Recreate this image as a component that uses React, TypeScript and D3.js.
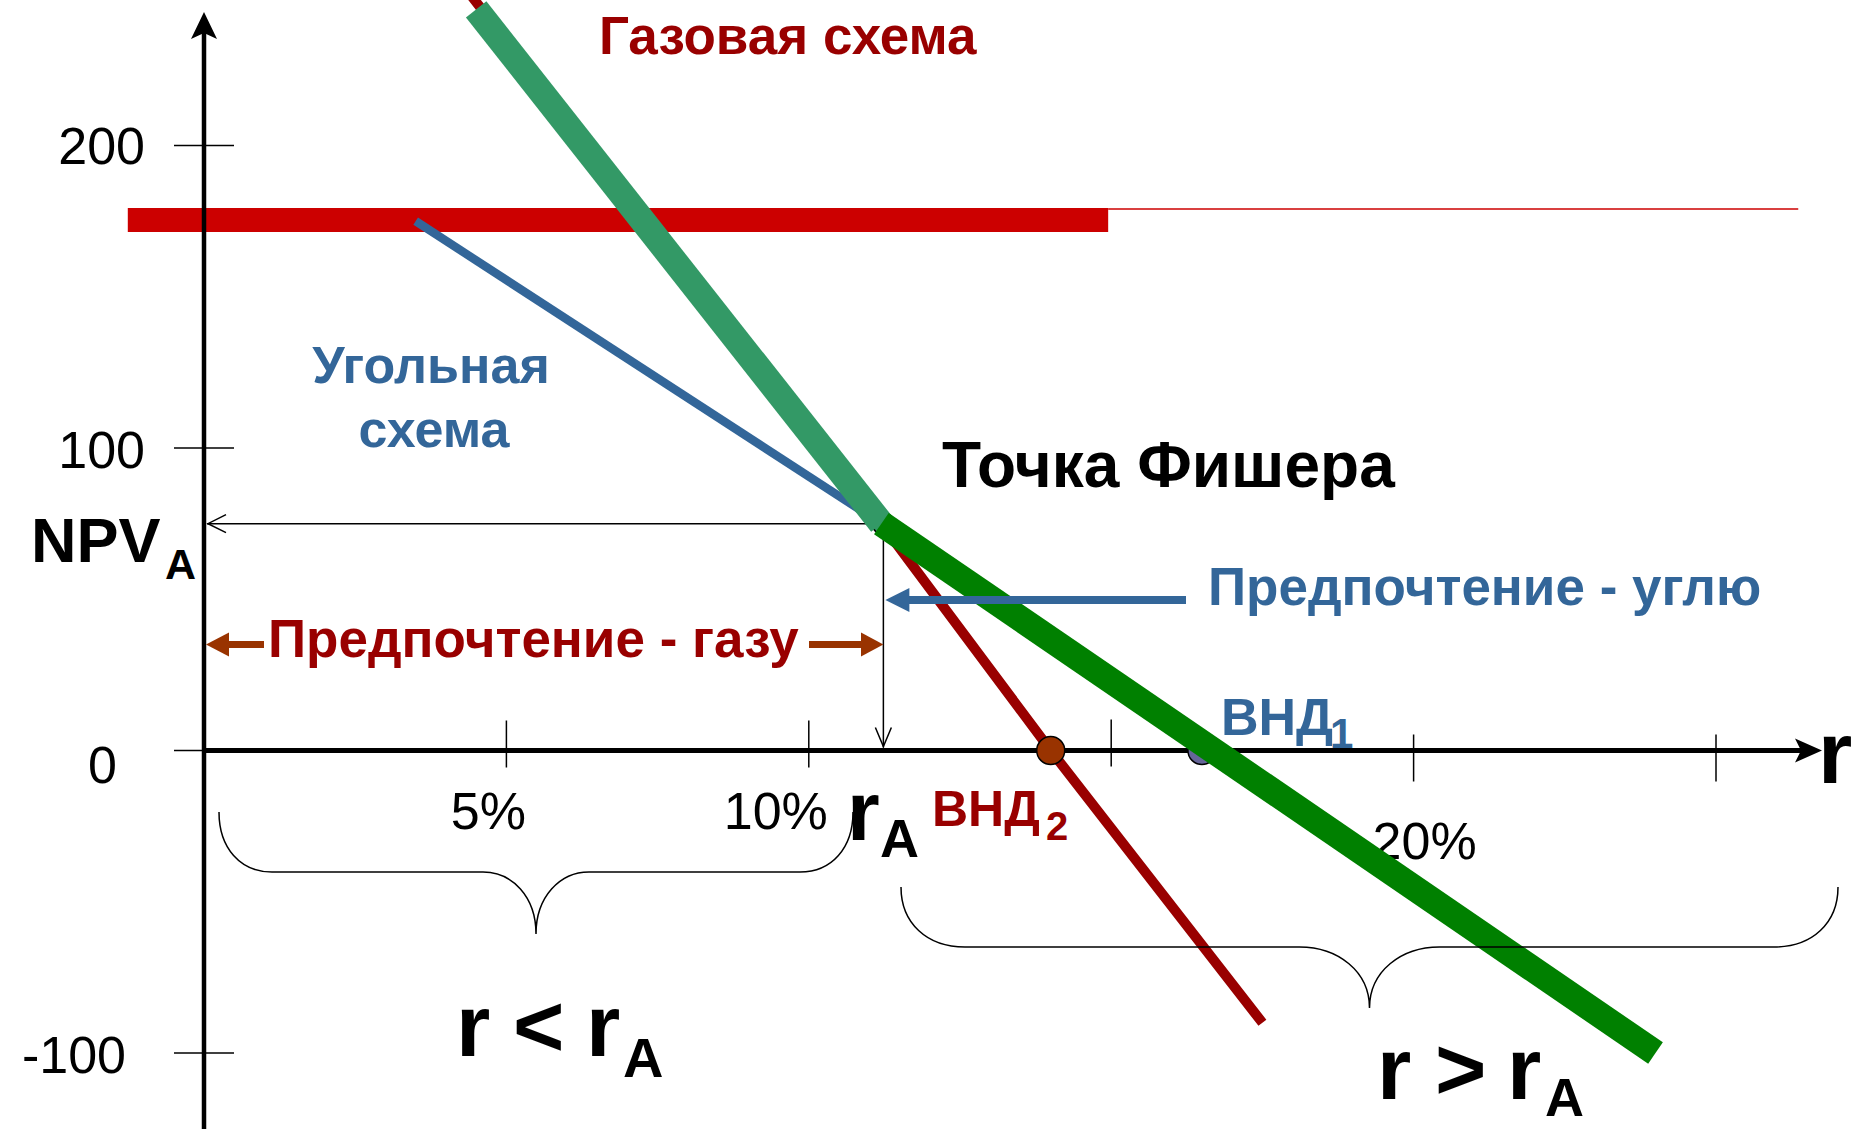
import React from 'react';
import { line, scaleLinear } from 'd3';

// tick values / labels
const rTicks = [5, 10, 15, 20, 25];
const rTickLabels = ['5%', '10%', '', '20%', ''];
const npvTicks = [200, 100, 0, -100];
const npvTickLabels = ['200', '100', '0', '-100'];

// NPV profiles (r in %, NPV)
const gasRates = [4.4, 11.2, 14.0, 17.5];
const gasNpv = [250, 75, 0, -90];
const coalRates = [3.5, 11.2];
const coalNpv = [175, 75];
// upper envelope: gas part and coal part
const envGasRates = [4.5, 11.2];
const envGasNpv = [245, 75];
const envCoalRates = [11.2, 24.0];
const envCoalNpv = [75, -100];
// red horizontal band
const bandRates = [-1.26, 14.95];
const bandNpv = [175.4, 175.4];
const bandTailRates = [14.95, 26.36];
const bandTailNpv = [179, 179];

const rA = 11.2;
const npvA = 75;
const irrGas = 14.0;
const irrCoal = 16.5;

const W = 1853;
const H = 1129;
const FONT = "'Liberation Sans', Arial, Helvetica, sans-serif";

const x = scaleLinear().domain([0, 25]).range([204, 1716]);
const y = scaleLinear().domain([-100, 200]).range([1053, 145.5]);

const zip = (rs: number[], vs: number[]) => rs.map((r, i) => [r, vs[i]] as [number, number]);
const path = line<[number, number]>()
  .x(d => x(d[0]))
  .y(d => y(d[1]));

// curly brace opening upward, pointing down at the middle
const brace = (x1: number, x2: number, yTop: number, yMid: number, yTip: number, e: number, c: number) => {
  const xc = (x1 + x2) / 2;
  const h = yMid - yTop;
  const t = yTip - yMid;
  return `M${x1},${yTop} C${x1},${yTop + h * 0.6} ${x1 + e * 0.4},${yMid} ${x1 + e},${yMid}` +
    ` H${xc - c} C${xc - c * 0.45},${yMid} ${xc},${yMid + t * 0.4} ${xc},${yTip}` +
    ` C${xc},${yMid + t * 0.4} ${xc + c * 0.45},${yMid} ${xc + c},${yMid}` +
    ` H${x2 - e} C${x2 - e * 0.4},${yMid} ${x2},${yTop + h * 0.6} ${x2},${yTop}`;
};

// y tick label nudges [dx, baseline offset]
const yLabelShift = [[0, 18], [0, 20], [-28, 32], [-19, 20]];
const xLabelShift = [[-18, 78], [-33, 78], [0, 78], [11, 108], [0, 78]];
const xTickSpan = [[-30, 17], [-30, 17], [-31, 16], [-16, 31], [-16, 31]];

export default function App() {
  const x0 = x(0);
  const y0 = y(0);
  const fx = x(rA);
  const fy = y(npvA);
  const axisRight = 1822;
  const axisTop = 12;

  return (
    <svg width={W} height={H} style={{ position: 'absolute', left: 0, top: 0, background: '#fff' }} fontFamily={FONT}>
      {/* red horizontal band */}
      <path d={path(zip(bandRates, bandNpv)) || ''} stroke="#CC0000" strokeWidth={24} fill="none" />
      <path d={path(zip(bandTailRates, bandTailNpv)) || ''} stroke="#CC0000" strokeWidth={1.5} fill="none" />

      {/* axes */}
      <line x1={x0} y1={H} x2={x0} y2={axisTop + 20} stroke="#000" strokeWidth={4.5} />
      <path d={`M${x0},${axisTop} L${x0 - 13},${axisTop + 27} L${x0},${axisTop + 21} L${x0 + 13},${axisTop + 27} Z`} fill="#000" />
      <line x1={x0} y1={y0} x2={axisRight - 20} y2={y0} stroke="#000" strokeWidth={5} />
      <path d={`M${axisRight},${y0} L${axisRight - 27},${y0 - 12} L${axisRight - 21},${y0} L${axisRight - 27},${y0 + 12} Z`} fill="#000" />

      {npvTicks.map((v, i) => (
        <g key={'y' + v}>
          <line x1={x0 - 30} x2={x0 + 30} y1={y(v)} y2={y(v)} stroke="#000" strokeWidth={1.5} />
          <text x={x0 - 59 + yLabelShift[i][0]} y={y(v) + yLabelShift[i][1]} textAnchor="end" fontSize={52}>
            {npvTickLabels[i]}
          </text>
        </g>
      ))}
      {rTicks.map((v, i) => (
        <g key={'x' + v}>
          <line x1={x(v)} x2={x(v)} y1={y0 + xTickSpan[i][0]} y2={y0 + xTickSpan[i][1]} stroke="#000" strokeWidth={1.5} />
          <text x={x(v) + xLabelShift[i][0]} y={y0 + xLabelShift[i][1]} textAnchor="middle" fontSize={52}>
            {rTickLabels[i]}
          </text>
        </g>
      ))}

      {/* guides from the Fisher point */}
      <line x1={fx + 2} y1={fy} x2={x0 + 3} y2={fy} stroke="#000" strokeWidth={1.5} />
      <path d={`M${x0 + 22},${fy - 9} L${x0 + 4},${fy} L${x0 + 22},${fy + 9}`} stroke="#000" strokeWidth={1.5} fill="none" />
      <line x1={fx + 2} y1={fy} x2={fx + 2} y2={y0 - 3} stroke="#000" strokeWidth={1.5} />
      <path d={`M${fx - 6},${y0 - 23} L${fx + 2},${y0 - 4} L${fx + 10},${y0 - 23}`} stroke="#000" strokeWidth={1.5} fill="none" />

      {/* NPV profiles */}
      <path d={path(zip(coalRates, coalNpv)) || ''} stroke="#336699" strokeWidth={8.5} fill="none" />
      <path d={path(zip(gasRates, gasNpv)) || ''} stroke="#990000" strokeWidth={10} fill="none" />
      <circle cx={fx + 2} cy={fy} r={11} fill="#339966" stroke="#000" strokeWidth={1.5} />

      <circle cx={x(irrCoal)} cy={y0} r={14} fill="#666699" stroke="#000" strokeWidth={1.5} />
      <circle cx={x(irrGas)} cy={y0} r={14} fill="#993300" stroke="#000" strokeWidth={1.5} />

      <path d={path(zip(envGasRates, envGasNpv)) || ''} stroke="#339966" strokeWidth={26} fill="none" />
      <path d={path(zip(envCoalRates, envCoalNpv)) || ''} stroke="#008000" strokeWidth={26} fill="none" />

      {/* preference arrows */}
      <rect x={fx + 26} y={596} width={1186 - fx - 26} height={8} fill="#336699" />
      <path d={`M${fx + 4},600 L${fx + 28},588 L${fx + 28},612 Z`} fill="#336699" />

      <rect x={228} y={641} width={36} height={7} fill="#993300" />
      <path d={`M${x0 + 2},644.5 L229,632.5 L229,656.5 Z`} fill="#993300" />
      <rect x={809} y={641} width={53} height={7} fill="#993300" />
      <path d={`M${fx + 2},644.5 L861,632.5 L861,656.5 Z`} fill="#993300" />

      {/* braces */}
      <path d={brace(219, 853, 812, 872, 934, 53, 53)} stroke="#000" strokeWidth={1.5} fill="none" />
      <path d={brace(901, 1838, 887, 947, 1008, 64, 70)} stroke="#000" strokeWidth={1.5} fill="none" />

      {/* labels */}
      <g fontWeight="bold">
        <text x={599} y={54} fontSize={53} fill="#990000">Газовая схема</text>
        <text x={431} y={383} fontSize={52} fill="#336699" textAnchor="middle">Угольная</text>
        <text x={434} y={447} fontSize={52} fill="#336699" textAnchor="middle">схема</text>
        <text x={942} y={487} fontSize={64} fill="#000">Точка Фишера</text>

        <text x={31} y={562} fontSize={63} fill="#000">NPV</text>
        <text x={165} y={579} fontSize={43} fill="#000">A</text>

        <text x={1208} y={605} fontSize={53} fill="#336699">Предпочтение - углю</text>
        <text x={268} y={657} fontSize={53} fill="#990000">Предпочтение - газу</text>

        <text x={1221} y={735} fontSize={52} fill="#336699">ВНД</text>
        <text x={1330} y={748} fontSize={42} fill="#336699">1</text>
        <text x={932} y={826} fontSize={50} fill="#990000">ВНД</text>
        <text x={1046} y={840} fontSize={40} fill="#990000">2</text>

        <text x={1818} y={783} fontSize={88} fill="#000">r</text>
        <text x={847} y={840} fontSize={84} fill="#000">r</text>
        <text x={880} y={857} fontSize={54} fill="#000">A</text>

        <text x={456} y={1056} fontSize={88} fill="#000">r</text>
        <text x={513} y={1056} fontSize={88} fill="#000">&lt;</text>
        <text x={586} y={1056} fontSize={88} fill="#000">r</text>
        <text x={623} y={1077} fontSize={56} fill="#000">A</text>

        <text x={1377} y={1099} fontSize={88} fill="#000">r</text>
        <text x={1435} y={1099} fontSize={88} fill="#000">&gt;</text>
        <text x={1507} y={1099} fontSize={88} fill="#000">r</text>
        <text x={1545} y={1116} fontSize={54} fill="#000">A</text>
      </g>
    </svg>
  );
}
